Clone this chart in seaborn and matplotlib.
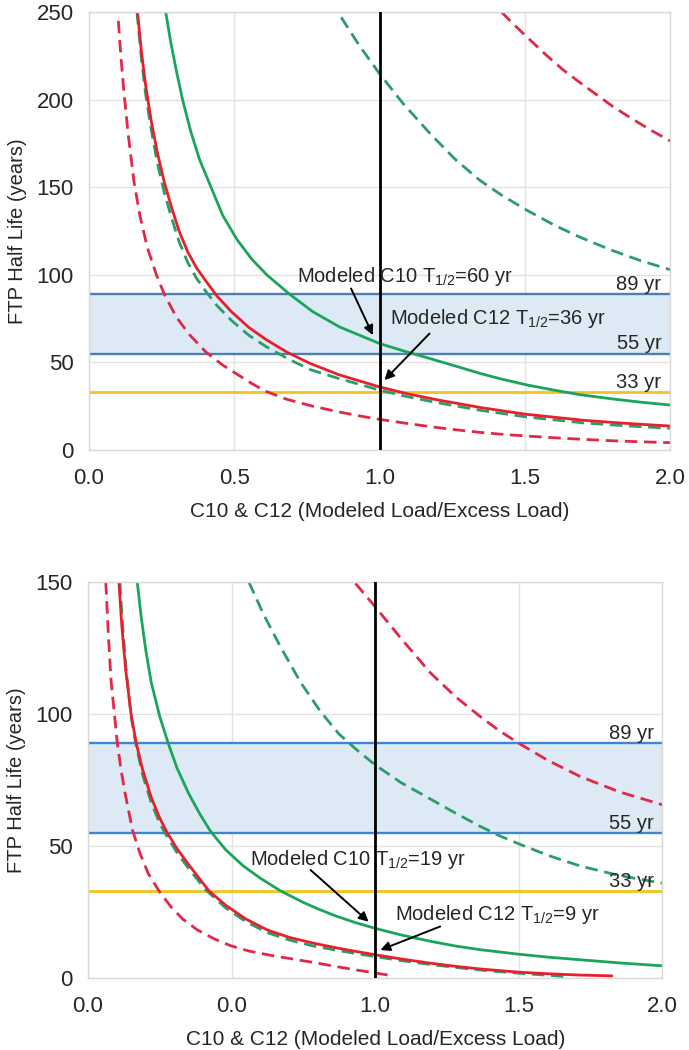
import matplotlib
matplotlib.use("Agg")
import matplotlib.pyplot as plt
import seaborn as sns

# ---------------- data ----------------
# upper panel
top_red_solid_x = [0.167, 0.18, 0.195, 0.215, 0.235, 0.259, 0.285, 0.31, 0.34, 0.37, 0.40, 0.44, 0.49, 0.55,
                   0.61, 0.68, 0.76, 0.86, 1.0, 1.1, 1.2, 1.35, 1.5, 1.7, 1.85, 2.0]
top_red_solid_y = [250, 228, 208, 187, 170, 153, 138, 125, 113, 104, 97, 88, 79, 70,
                   63, 56, 49.5, 43, 36, 32, 28.6, 24.2, 20.5, 17, 15.2, 13.7]

top_green_dash_lo_x = [0.165, 0.18, 0.195, 0.215, 0.235, 0.259, 0.285, 0.31, 0.34, 0.37, 0.40, 0.44, 0.49, 0.55,
                       0.61, 0.68, 0.76, 0.86, 1.0, 1.1, 1.2, 1.35, 1.5, 1.7, 1.85, 2.0]
top_green_dash_lo_y = [250, 224, 203, 182, 164, 147, 132, 119, 107, 98, 91, 82.5, 74, 65.5,
                       59, 52.5, 46, 40.8, 34.2, 30.3, 27, 22.6, 19, 15.5, 13.8, 12.4]

top_green_solid_x = [0.264, 0.28, 0.30, 0.322, 0.35, 0.38, 0.42, 0.46, 0.51, 0.56, 0.612, 0.69, 0.77, 0.862,
                     1.0, 1.09, 1.172, 1.26, 1.345, 1.42, 1.506, 1.6, 1.69, 1.8, 1.9, 2.0]
top_green_solid_y = [250, 234, 217, 200, 182, 166, 150, 134, 120, 109, 100, 89, 79, 70.3,
                     60.8, 56.2, 52.3, 48, 43.8, 40.5, 37.2, 34.2, 31.6, 29.2, 27.3, 25.7]

top_red_dash_in_x = [0.101, 0.11, 0.121, 0.135, 0.155, 0.175, 0.2, 0.232, 0.259, 0.3, 0.345, 0.402, 0.46, 0.517,
                     0.56, 0.609, 0.68, 0.77, 0.862, 0.93, 1.0, 1.09, 1.172, 1.26, 1.345, 1.42, 1.506, 1.6,
                     1.69, 1.8, 1.9, 2.0]
top_red_dash_in_y = [245, 224, 203, 180, 153, 134, 116, 100, 89, 76, 66, 56, 48.5, 42.5,
                     38, 33.5, 29, 25, 21.7, 19.5, 17.5, 15.3, 13.4, 11.6, 10.1, 9, 8, 7,
                     6.2, 5.3, 4.7, 4.2]

top_green_dash_hi_x = [0.868, 0.93, 1.0, 1.08, 1.172, 1.26, 1.345, 1.42, 1.506, 1.6, 1.69, 1.8, 1.9, 2.0]
top_green_dash_hi_y = [247, 231, 214.8, 198, 181, 166, 154, 145.5, 137, 128.5, 121.5, 114, 108, 103]

top_red_dash_hi_x = [1.42, 1.46, 1.506, 1.57, 1.632, 1.7, 1.75, 1.804, 1.87, 1.94, 2.0]
top_red_dash_hi_y = [250, 243.3, 236, 226, 217, 208.5, 202.5, 196, 189, 182, 176.5]

# lower panel
bot_red_solid_x = [0.108, 0.118, 0.131, 0.15, 0.168, 0.19, 0.22, 0.25, 0.276, 0.31, 0.35, 0.421, 0.48, 0.55,
                   0.624, 0.7, 0.78, 0.86, 0.93, 1.0, 1.09, 1.192, 1.28, 1.366, 1.5, 1.6, 1.714, 1.824]
bot_red_solid_y = [149.5, 133, 117, 100, 89, 79, 68.5, 60.5, 55, 49, 43, 33, 27.5, 22.3,
                   18.2, 15.4, 13.3, 11.5, 10.1, 8.8, 7.2, 5.6, 4.4, 3.4, 2.2, 1.6, 1.1, 0.8]

bot_green_dash_lo_x = [0.111, 0.12, 0.132, 0.15, 0.166, 0.19, 0.22, 0.25, 0.27, 0.31, 0.35, 0.409, 0.48, 0.55,
                       0.624, 0.7, 0.78, 0.86, 0.93, 1.0, 1.09, 1.192, 1.28, 1.366, 1.5, 1.655]
bot_green_dash_lo_y = [150, 134, 118, 99, 89, 77, 66.5, 58.5, 54.5, 47.5, 41.5, 33.5, 26.5, 21.3,
                       17.2, 14.4, 12.2, 10.6, 9.3, 8.1, 6.6, 5.1, 4.0, 3.0, 1.8, 0.6]

bot_green_solid_x = [0.172, 0.185, 0.2, 0.22, 0.25, 0.279, 0.31, 0.35, 0.39, 0.427, 0.48, 0.54, 0.6, 0.67,
                     0.75, 0.8, 0.86, 0.93, 1.0, 1.09, 1.192, 1.28, 1.366, 1.5, 1.6, 1.714, 1.85, 2.0]
bot_green_solid_y = [149.5, 137, 125, 112, 99, 89, 79.5, 70, 62, 55.5, 48.5, 42.5, 37.8, 33,
                     28.6, 26.2, 23.6, 21.0, 18.8, 16.3, 13.9, 12.1, 10.7, 9.0, 7.9, 6.9, 5.7, 4.6]

bot_red_dash_in_x = [0.062, 0.07, 0.08, 0.092, 0.102, 0.115, 0.13, 0.155, 0.18, 0.21, 0.247, 0.29, 0.33, 0.381,
                     0.44, 0.497, 0.56, 0.64, 0.728, 0.8, 0.86, 0.93, 1.0, 1.066]
bot_red_dash_in_y = [150, 132, 113, 100, 89, 79, 69.5, 56, 47.5, 39.5, 33, 26.8, 22.3, 18.2,
                     14.8, 12.2, 10.2, 8.5, 6.9, 5.6, 4.4, 3.1, 1.9, 0.7]

bot_green_dash_hi_x = [0.56, 0.61, 0.67, 0.74, 0.809, 0.873, 0.94, 1.0, 1.09, 1.192, 1.28, 1.366, 1.43, 1.5,
                       1.6, 1.714, 1.85, 2.0]
bot_green_dash_hi_y = [150, 138, 125.5, 112, 101, 92.5, 86, 80.7, 74, 67.8, 62.4, 57.4, 54, 50.8,
                       46.5, 42.4, 38.8, 35.9]

bot_red_dash_hi_x = [0.931, 1.0, 1.09, 1.192, 1.28, 1.366, 1.43, 1.5, 1.6, 1.714, 1.85, 2.0]
bot_red_dash_hi_y = [149.5, 140.6, 128.6, 115.6, 106.5, 99, 93.8, 88.9, 82.5, 76.3, 70.5, 65.6]

levels = [89, 55, 33]
level_labels = ["89 yr", "55 yr", "33 yr"]
x_ticks = [0.0, 0.5, 1.0, 1.5, 2.0]
top_xticklabels = ["0.0", "0.5", "1.0", "1.5", "2.0"]
bot_xticklabels = ["0.0", "0.0", "1.0", "1.5", "2.0"]
top_yticks = [0, 50, 100, 150, 200, 250]
bot_yticks = [0, 50, 100, 150]

top_notes = [r"Modeled C10 T$_{\mathregular{1/2}}$=60 yr", r"Modeled C12 T$_{\mathregular{1/2}}$=36 yr"]
bot_notes = [r"Modeled C10 T$_{\mathregular{1/2}}$=19 yr", r"Modeled C12 T$_{\mathregular{1/2}}$=9 yr"]

# ---------------- style ----------------
sns.set_theme(style="whitegrid")
plt.rcParams["font.family"] = ["Liberation Sans", "DejaVu Sans"]
plt.rcParams["mathtext.fontset"] = "custom"
plt.rcParams["mathtext.rm"] = "Liberation Sans"
plt.rcParams["mathtext.it"] = "Liberation Sans:italic"

RED = "#e8202c"
RED_D = "#e02848"
GREEN = "#1aa65a"
GREEN_D = "#2a9d68"
YELLOW = "#f2c41c"
TXT = "#262626"
DASH = (0, (4.5, 2.4))

fig = plt.figure(figsize=(6.89, 10.5), dpi=100)
ax1 = fig.add_axes([0.1292, 0.5714, 0.8433, 0.4171])
ax2 = fig.add_axes([0.1277, 0.0686, 0.8338, 0.3771])


def draw_panel(ax, curves, ymax, yticks, xticklabels, blue):
    ax.axhspan(levels[1], levels[0], color="#dde9f5", lw=0, zorder=1)
    ax.axhline(levels[0], color=blue, lw=1.7, zorder=1.5)
    ax.axhline(levels[1], color=blue, lw=1.7, zorder=1.5)
    ax.axhline(levels[2], color=YELLOW, lw=2.0, zorder=1.5)
    for xs, ys, col, ls in curves:
        sns.lineplot(x=xs, y=ys, ax=ax, color=col, lw=2.0, linestyle=ls,
                     sort=False, estimator=None, zorder=2)
    ax.axvline(1.0, color="black", lw=2.0, zorder=3)
    ax.set_xlim(0, 2)
    ax.set_ylim(0, ymax)
    ax.set_xticks(x_ticks)
    ax.set_xticklabels(xticklabels)
    ax.set_yticks(yticks)
    ax.grid(True, color="#e3e3e3", lw=1.0)
    for s in ax.spines.values():
        s.set_color("#d9d9d9")
        s.set_linewidth(1.0)
    ax.tick_params(axis="y", length=0, pad=11, labelsize=16, labelcolor=TXT)
    ax.tick_params(axis="x", length=0, pad=13, labelsize=16, labelcolor=TXT)
    ax.set_xlabel("C10 & C12 (Modeled Load/Excess Load)", fontsize=15, color=TXT, labelpad=9)
    ax.set_ylabel("FTP Half Life (years)", fontsize=14.5, color=TXT, labelpad=7)
    for lv, lab in zip(levels, level_labels):
        ax.annotate(lab, xy=(1.97, lv), xytext=(0, 7), textcoords="offset points",
                    ha="right", va="center", fontsize=14.5, color=TXT, zorder=4)


top_curves = [
    (top_red_dash_in_x, top_red_dash_in_y, RED_D, DASH),
    (top_red_dash_hi_x, top_red_dash_hi_y, RED_D, DASH),
    (top_green_dash_hi_x, top_green_dash_hi_y, GREEN_D, DASH),
    (top_green_dash_lo_x, top_green_dash_lo_y, GREEN_D, DASH),
    (top_green_solid_x, top_green_solid_y, GREEN, "-"),
    (top_red_solid_x, top_red_solid_y, RED, "-"),
]
bot_curves = [
    (bot_red_dash_in_x, bot_red_dash_in_y, RED_D, DASH),
    (bot_red_dash_hi_x, bot_red_dash_hi_y, RED_D, DASH),
    (bot_green_dash_hi_x, bot_green_dash_hi_y, GREEN_D, DASH),
    (bot_green_dash_lo_x, bot_green_dash_lo_y, GREEN_D, DASH),
    (bot_green_solid_x, bot_green_solid_y, GREEN, "-"),
    (bot_red_solid_x, bot_red_solid_y, RED, "-"),
]

draw_panel(ax1, top_curves, 250, top_yticks, top_xticklabels, "#4a80b4")
draw_panel(ax2, bot_curves, 150, bot_yticks, bot_xticklabels, "#3a86d4")

arrow = dict(arrowstyle="-|>", color="black", lw=1.4, mutation_scale=14, shrinkA=0, shrinkB=0)

# upper panel callouts
ax1.text(1.089, 98.9, top_notes[0], ha="center", va="center", fontsize=14.5, color=TXT, zorder=4)
ax1.annotate("", xy=(0.977, 65.6), xytext=(0.902, 92.2), arrowprops=arrow, zorder=4)
ax1.text(1.408, 75.1, top_notes[1], ha="center", va="center", fontsize=14.5, color=TXT, zorder=4)
ax1.annotate("", xy=(1.017, 39.9), xytext=(1.172, 66.5), arrowprops=arrow, zorder=4)

# lower panel callouts
ax2.text(0.94, 44.7, bot_notes[0], ha="center", va="center", fontsize=14.5, color=TXT, zorder=4)
ax2.annotate("", xy=(0.977, 21.3), xytext=(0.775, 40.9), arrowprops=arrow, zorder=4)
ax2.text(1.424, 23.9, bot_notes[1], ha="center", va="center", fontsize=14.5, color=TXT, zorder=4)
ax2.annotate("", xy=(1.018, 10.6), xytext=(1.226, 19.5), arrowprops=arrow, zorder=4)

fig.savefig("out.png", dpi=100)
